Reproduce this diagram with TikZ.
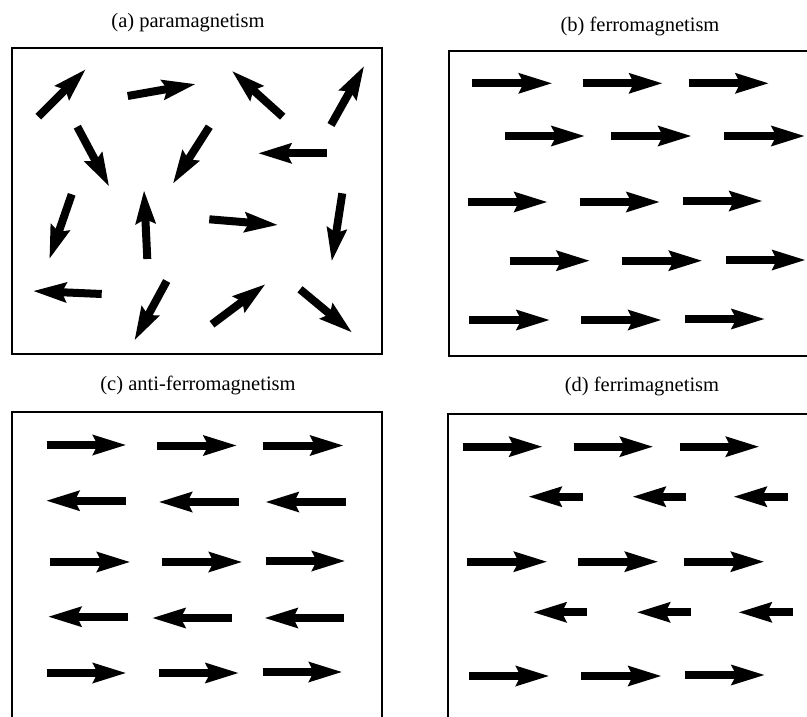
\documentclass[tikz,border=0pt]{standalone}
\usepackage{fontspec}
\setmainfont{Liberation Serif}
\usetikzlibrary{arrows.meta}
\tikzset{
  spin/.style={line width=8pt, -{Stealth[length=33pt,width=19pt,inset=4pt]}},
  panel/.style={draw=black, line width=1.8pt},
  ttl/.style={anchor=base, font=\fontsize{20.5}{24}\selectfont, inner sep=0pt}
}
\begin{document}
\begin{tikzpicture}[x=1pt,y=-1pt]
\path[use as bounding box] (0,0) rectangle (807,717);
\clip (0,0) rectangle (807,717);
% titles
\node[ttl] (ta) at (188,27.5) {(a) paramagnetism};
\node[ttl] (tb) at (640,32) {(b) ferromagnetism};
\node[ttl] (tc) at (198,390.7) {(c) anti-ferromagnetism};
\node[ttl] (td) at (642,391) {(d) ferrimagnetism};
% panels
\draw[panel] (12.3,47.7) rectangle (381.7,354);
\draw[panel] (449.3,50.7) rectangle (830,356);
\draw[panel] (12.3,412.3) rectangle (381.7,740);
\draw[panel] (448.3,414.3) rectangle (830,740);
% (a) paramagnetism
\draw[spin] (38.3,116.7) -- (86,69);
\draw[spin] (127.7,96) -- (196,84);
\draw[spin] (282.7,116.7) -- (231.7,70.7);
\draw[spin] (331,125) -- (364.3,65.7);
\draw[spin] (77.3,126.7) -- (109.3,186.7);
\draw[spin] (209.3,126.7) -- (172.7,184);
\draw[spin] (326.7,153.3) -- (257.7,153.3);
\draw[spin] (71.7,194.3) -- (49.3,259.3);
\draw[spin] (147.3,259) -- (144,190);
\draw[spin] (209.3,219.3) -- (278.3,225);
\draw[spin] (342.3,193.3) -- (331.7,261.7);
\draw[spin] (101.7,294) -- (32.7,291);
\draw[spin] (166.7,281) -- (134.3,340.7);
\draw[spin] (212,324.3) -- (265.7,284);
\draw[spin] (300,289.3) -- (352.3,332.7);
% (b) ferromagnetism
\foreach \a/\b/\y in {472/552.7/83.3, 582.7/663/83.3, 688.7/769.3/83.3,
  504.7/585.3/136, 611.3/692/136, 724.3/805.3/136,
  467.7/548/202, 579.7/660.3/202, 683/763/201,
  509.7/590.3/260.7, 622/702.7/260.7, 726/806/260,
  469.3/550.3/320, 581.3/662/320, 685.3/765.3/319}
  \draw[spin] (\a,\y) -- (\b,\y);
% (c) anti-ferromagnetism
\foreach \a/\b/\y in {46.7/126.7/445, 157.3/237.3/445.5, 263.3/344/445.5,
  126/45.7/500.7, 238.7/158.3/502, 345.7/265/502,
  50/130.7/562, 162.3/242.7/562, 265.7/345.7/561,
  128.3/47.7/616.7, 232/151.7/618, 344.3/264/618,
  46.7/126.7/673, 159/239.3/673, 262.7/342.7/672}
  \draw[spin] (\a,\y) -- (\b,\y);
% (d) ferrimagnetism
\foreach \a/\b/\y in {462.7/543/446.7, 573.7/653.7/446.7, 679.7/759.7/446.7,
  582.7/528/496.7, 686.3/632/496.7, 788/733/496.7,
  467/547.7/561.7, 578/658.7/561.7, 684.3/764.7/561.7,
  587/532.7/612.3, 691/636.3/612.3, 792.7/738/612.3,
  469.3/549.7/676, 581.3/662/676, 685.3/765.3/675}
  \draw[spin] (\a,\y) -- (\b,\y);
\end{tikzpicture}
\end{document}
